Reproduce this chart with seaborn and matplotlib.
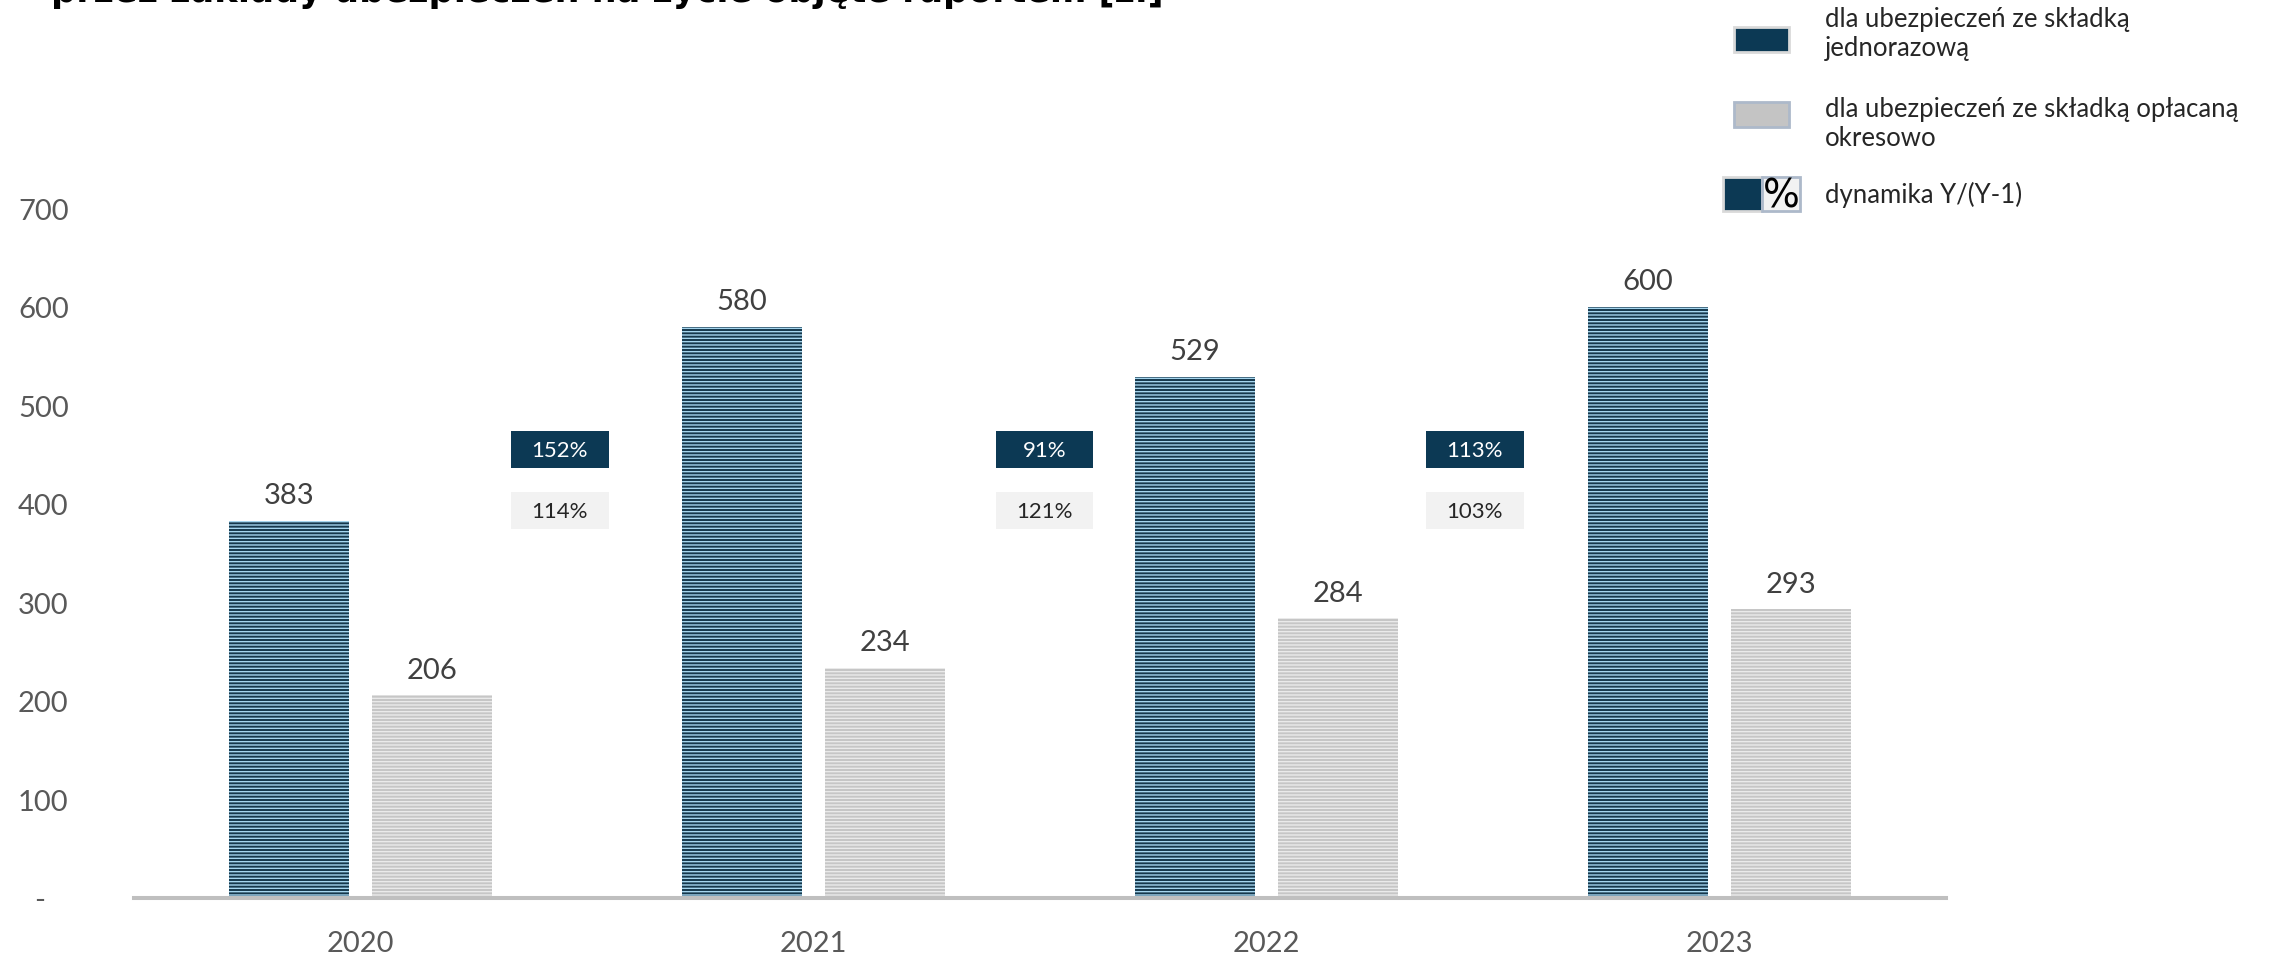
import numpy as np
import pandas as pd
import matplotlib
matplotlib.use('Agg')
import matplotlib.pyplot as plt
from matplotlib.patches import Rectangle
import seaborn as sns

sns.set_style('white')
plt.rcParams['font.family'] = ['Lato', 'DejaVu Sans']
plt.rcParams['hatch.linewidth'] = 1.0

# data
years = ['2020', '2021', '2022', '2023']
single_premium = [383, 580, 529, 600]
regular_premium = [206, 234, 284, 293]
dyn_single = ['152%', '91%', '113%']
dyn_regular = ['114%', '121%', '103%']
series_names = ['dla ubezpieczeń ze składką jednorazową',
                'dla ubezpieczeń ze składką opłacaną okresowo']
y_ticks = [0, 100, 200, 300, 400, 500, 600, 700]
y_labels = ['-   ', '100', '200', '300', '400', '500', '600', '700']
title = 'przez zakłady ubezpieczeń na życie objęte raportem [zł]'

navy = '#0c3954'
navy_stripe = '#a5d5ee'
grey = '#c6c6c6'
grey_stripe = '#eaeaea'

df = pd.DataFrame({
    'rok': years * 2,
    'wartosc': single_premium + regular_premium,
    'typ': [series_names[0]] * 4 + [series_names[1]] * 4,
})

W, H = 2277, 954
fig = plt.figure(figsize=(W / 100, H / 100), dpi=100)
ax = fig.add_axes([134 / W, 55 / H, 1812 / W, 720 * 0.985 / H])

sns.barplot(data=df, x='rok', y='wartosc', hue='typ', order=years,
            hue_order=series_names, palette=[navy, grey],
            width=0.633, gap=0.167, legend=False, ax=ax)

for cont, stripe in zip(ax.containers, [navy_stripe, grey_stripe]):
    for p in cont:
        p.set_hatch('-----')
        p.set_edgecolor(stripe)
        p.set_linewidth(0)
    ax.bar_label(cont, fmt='%d', padding=9, fontsize=21, color='#404040')

ax.set_xlim(-0.5, 3.5)
ax.set_ylim(0, 720)
ax.set_yticks(y_ticks)
ax.set_yticklabels(y_labels)
ax.tick_params(axis='y', length=0, pad=47, labelsize=21, labelcolor='#595959')
ax.tick_params(axis='x', length=0, pad=23, labelsize=21, labelcolor='#595959')
ax.set_xlabel('')
ax.set_ylabel('')
for s in ['top', 'right', 'left']:
    ax.spines[s].set_visible(False)
ax.spines['bottom'].set_color('#bfbfbf')
ax.spines['bottom'].set_linewidth(2.9)

# dynamics boxes between years
box_x = [0.44, 1.51, 2.46]
box_w, box_h = 0.216, 37.6
for i in range(3):
    xc = box_x[i]
    ax.add_patch(Rectangle((xc - box_w / 2, 455 - box_h / 2), box_w, box_h,
                           facecolor=navy, edgecolor='none', zorder=3))
    ax.text(xc, 455, dyn_single[i], ha='center', va='center',
            fontsize=16, color='white', zorder=4)
    ax.add_patch(Rectangle((xc - box_w / 2, 393 - box_h / 2), box_w, box_h,
                           facecolor='#f2f2f2', edgecolor='none', zorder=3))
    ax.text(xc, 393, dyn_regular[i], ha='center', va='center',
            fontsize=16, color='#262626', zorder=4)


def fx(px):
    return px / W


def fy(py):
    return 1 - py / H


# title, cut at the top edge as in the source
fig.text(fx(51), fy(2), title, fontsize=25.2, fontweight='bold',
         family='DejaVu Sans', color='black', va='baseline', ha='left')

# legend
def legend_box(x0, x1, y0, y1, face, edge):
    fig.add_artist(Rectangle((fx(x0), fy(y1)), fx(x1) - fx(x0), fy(y0) - fy(y1),
                             transform=fig.transFigure, facecolor=face,
                             edgecolor=edge, linewidth=2))


legend_box(1734, 1789, 28, 53, navy, '#d9d9d9')
legend_box(1734, 1789, 103, 128, '#c4c4c4', '#adb9ca')
legend_box(1723, 1762, 178, 212, navy, '#d9d9d9')
legend_box(1762, 1800, 178, 212, '#f2f2f2', '#adb9ca')
fig.text(fx(1781), fy(197), '%', fontsize=28, family='DejaVu Sans',
         color='black', ha='center', va='center')

leg_lines = [('dla ubezpieczeń ze składką', 27), ('jednorazową', 56),
             ('dla ubezpieczeń ze składką opłacaną', 117), ('okresowo', 146),
             ('dynamika Y/(Y-1)', 203)]
for txt, base in leg_lines:
    fig.text(fx(1825), fy(base), txt, fontsize=18.5, color='#262626',
             ha='left', va='baseline')

fig.savefig('out.png', dpi=100)
